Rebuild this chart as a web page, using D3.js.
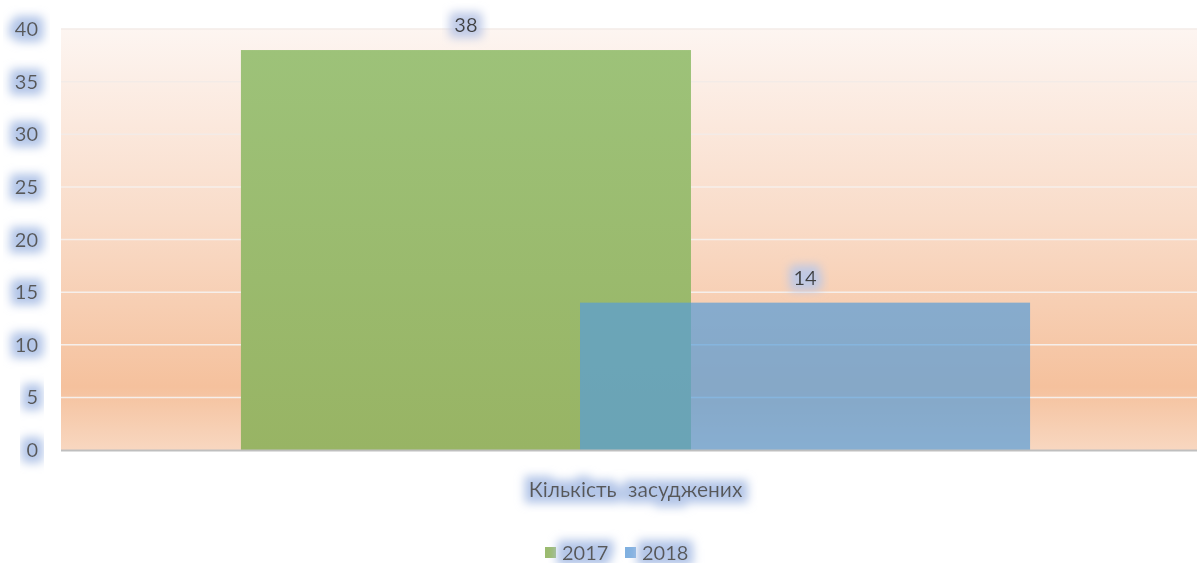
<!DOCTYPE html>
<html>
<head>
<meta charset="utf-8">
<script src="https://cdn.jsdelivr.net/npm/d3@7/dist/d3.min.js"></script>
<style>
  html, body { margin: 0; padding: 0; background: #fff; }
  svg { display: block; font-family: Lato, "Open Sans", sans-serif; }
</style>
</head>
<body>
<svg id="chart" width="1197" height="563"></svg>
<script>
// ---------------------------------------------------------------------------
// Data
// ---------------------------------------------------------------------------
const categories = ['Кількість засуджених'];
const seriesNames = ['2017', '2018'];
const values2017 = [38];
const values2018 = [14];
const yTicks = [0, 5, 10, 15, 20, 25, 30, 35, 40];

const seriesColors = { '2017': '#9bbc6e', '2018': '#579dd9' };

// ---------------------------------------------------------------------------
// Layout
// ---------------------------------------------------------------------------
const plot = { left: 61, right: 1210, top: 29, bottom: 450 };

const svg = d3.select('#chart');
const defs = svg.append('defs');

// soft halo behind text (Office "glow" effect)
function addGlow(id, color, opacity) {
  const f = defs.append('filter').attr('id', id)
    .attr('x', '-50%').attr('y', '-80%').attr('width', '200%').attr('height', '260%');
  f.append('feMorphology').attr('in', 'SourceAlpha').attr('operator', 'dilate')
    .attr('radius', 6).attr('result', 'dil');
  f.append('feFlood').attr('flood-color', color).attr('flood-opacity', opacity).attr('result', 'col');
  f.append('feComposite').attr('in', 'col').attr('in2', 'dil').attr('operator', 'in').attr('result', 'halo');
  f.append('feGaussianBlur').attr('in', 'halo').attr('stdDeviation', 5).attr('result', 'blur');
  const m = f.append('feMerge');
  m.append('feMergeNode').attr('in', 'blur');
  m.append('feMergeNode').attr('in', 'SourceGraphic');
}
addGlow('glow', '#b4c6e8', 1);
addGlow('glow2', '#bcc8e6', 0.95);

// plot area background gradient
const bg = defs.append('linearGradient').attr('id', 'bgGrad')
  .attr('x1', 0).attr('y1', 0).attr('x2', 0).attr('y2', 1);
bg.append('stop').attr('offset', '0%').attr('stop-color', '#fdf5f1');
bg.append('stop').attr('offset', '45%').attr('stop-color', '#f9dcc9');
bg.append('stop').attr('offset', '85%').attr('stop-color', '#f5c19d');
bg.append('stop').attr('offset', '100%').attr('stop-color', '#f8d7c0');

const greenGrad = defs.append('linearGradient').attr('id', 'greenGrad')
  .attr('x1', 0).attr('y1', 0).attr('x2', 0).attr('y2', 1);
greenGrad.append('stop').attr('offset', '0%').attr('stop-color', '#9dc279');
greenGrad.append('stop').attr('offset', '100%').attr('stop-color', '#98b464');

// ---------------------------------------------------------------------------
// Scales
// ---------------------------------------------------------------------------
const y = d3.scaleLinear().domain([0, 40]).range([plot.bottom, plot.top]);

const x0 = d3.scaleBand().domain(categories)
  .range([plot.left, plot.right]).paddingInner(0).paddingOuter(0.228);
// bars overlap inside the group
const barW = x0.bandwidth() * 0.5703;
const x1 = d3.scalePoint().domain(seriesNames).range([0, x0.bandwidth() - barW]);

// ---------------------------------------------------------------------------
// Background + gridlines
// ---------------------------------------------------------------------------
svg.append('rect')
  .attr('x', plot.left).attr('y', plot.top)
  .attr('width', plot.right - plot.left).attr('height', plot.bottom - plot.top)
  .attr('fill', 'url(#bgGrad)');

const gridG = svg.append('g');
yTicks.filter(t => t > 0).forEach(t => {
  gridG.append('line')
    .attr('x1', plot.left).attr('x2', plot.right)
    .attr('y1', y(t)).attr('y2', y(t))
    .attr('stroke', t >= 30 ? '#f3ebe7' : '#f6efeb').attr('stroke-width', 1.5);
});

// ---------------------------------------------------------------------------
// Bars
// ---------------------------------------------------------------------------
const rows = categories.map((c, i) => ({
  category: c,
  items: [
    { series: '2017', value: values2017[i] },
    { series: '2018', value: values2018[i] }
  ]
}));

const barG = svg.append('g');
rows.forEach(r => {
  r.items.forEach(d => {
    barG.append('rect')
      .attr('x', x0(r.category) + x1(d.series)).attr('y', y(d.value))
      .attr('width', barW).attr('height', y(0) - y(d.value))
      .attr('fill', d.series === '2017' ? 'url(#greenGrad)' : seriesColors[d.series])
      .attr('fill-opacity', d.series === '2018' ? 0.7 : 1);
  });
});

// baseline
svg.append('line')
  .attr('x1', plot.left).attr('x2', plot.right)
  .attr('y1', y(0) + 0.5).attr('y2', y(0) + 0.5)
  .attr('stroke', '#bfbfbf').attr('stroke-width', 2);

// ---------------------------------------------------------------------------
// Data labels
// ---------------------------------------------------------------------------
rows.forEach(r => {
  r.items.forEach(d => {
    svg.append('text')
      .attr('x', x0(r.category) + x1(d.series) + barW / 2).attr('y', y(d.value) - 18)
      .attr('text-anchor', 'middle')
      .attr('font-size', 20).attr('fill', '#404040')
      .attr('filter', 'url(#glow2)')
      .text(d.value);
  });
});

// ---------------------------------------------------------------------------
// Y axis labels
// ---------------------------------------------------------------------------
yTicks.forEach(t => {
  svg.append('text')
    .attr('x', 38).attr('y', y(t))
    .attr('dy', '0.35em')
    .attr('text-anchor', 'end')
    .attr('font-size', 20).attr('fill', '#595959')
    .attr('filter', 'url(#glow)')
    .text(t);
});

// ---------------------------------------------------------------------------
// Category label
// ---------------------------------------------------------------------------
categories.forEach(c => {
  svg.append('text')
    .attr('x', x0(c) + x0.bandwidth() / 2).attr('y', 490)
    .attr('dy', '0.35em')
    .attr('text-anchor', 'middle')
    .attr('font-size', 21).attr('fill', '#595959')
    .attr('word-spacing', 6)
    .attr('filter', 'url(#glow)')
    .text(c);
});

// ---------------------------------------------------------------------------
// Legend
// ---------------------------------------------------------------------------
const legendX = [545, 625];
const legG = svg.append('g');
seriesNames.forEach((s, i) => {
  legG.append('rect')
    .attr('x', legendX[i]).attr('y', 547)
    .attr('width', 11).attr('height', 11)
    .attr('fill', s === '2017' ? '#9bbb6f' : '#80b0e0');
  legG.append('text')
    .attr('x', legendX[i] + 17).attr('y', 553)
    .attr('dy', '0.35em')
    .attr('font-size', 20).attr('fill', '#595959')
    .attr('filter', 'url(#glow)')
    .text(s);
});
</script>
</body>
</html>
